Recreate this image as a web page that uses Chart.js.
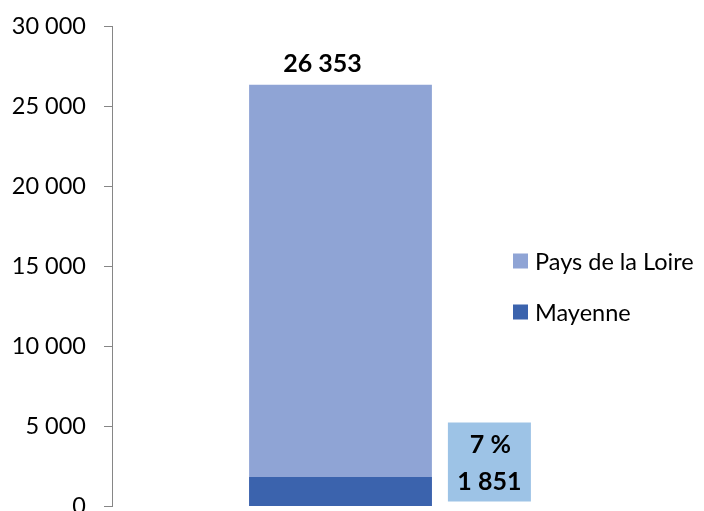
<!DOCTYPE html>
<html>
<head>
<meta charset="utf-8">
<script src="https://cdn.jsdelivr.net/npm/chart.js@4/dist/chart.umd.min.js"></script>
<style>
html,body{margin:0;padding:0;background:#fff;overflow:hidden;}
#wrap{width:704px;height:511px;position:relative;}
</style>
</head>
<body>
<div id="wrap"><canvas id="c" width="704" height="511"></canvas></div>
<script>
const categories = [""];
const seriesNames = ["Pays de la Loire", "Mayenne"];
const paysValues = [26353];
const mayenneValues = [1851];
const yTicks = [0, 5000, 10000, 15000, 20000, 25000, 30000];

const FONT = "Lato, 'Open Sans', sans-serif";
const colPays = "#8FA4D5";
const colMay = "#3B63AD";
const colBox = "#9DC3E6";

function fmt(v){
  return String(Math.round(v)).replace(/\B(?=(\d{3})+(?!\d))/g, " ");
}

const overlayPlugin = {
  id: "overlay",
  afterDraw(chart){
    const ctx = chart.ctx;
    const metaP = chart.getDatasetMeta(0);
    const metaM = chart.getDatasetMeta(1);
    ctx.save();
    // total label above bar
    const barP = metaP.data[0];
    ctx.fillStyle = "#000";
    ctx.font = "bold 25px " + FONT;
    ctx.textAlign = "center";
    ctx.textBaseline = "middle";
    ctx.fillText(fmt(paysValues[0]), barP.x - 18, barP.y - 21);
    // box label for Mayenne
    const barM = metaM.data[0];
    const right = barM.x + barM.width/2;
    const bx = right + 16, bw = 83, bh = 79;
    const by = barM.base - 83.5;
    ctx.fillStyle = colBox;
    ctx.fillRect(bx, by, bw, bh);
    ctx.fillStyle = "#000";
    const pct = Math.round(mayenneValues[0] / paysValues[0] * 100);
    ctx.fillText(pct + " %", bx + bw/2 + 1, by + 22);
    ctx.fillText(fmt(mayenneValues[0]), bx + bw/2, by + 59);
    // legend
    ctx.font = "23.5px " + FONT;
    ctx.textAlign = "left";
    const items = [{name: seriesNames[0], c: colPays, y: 261}, {name: seriesNames[1], c: colMay, y: 312}];
    items.forEach(it => {
      ctx.fillStyle = it.c;
      ctx.fillRect(513, it.y - 7.5, 15, 15);
      ctx.fillStyle = "#000";
      ctx.fillText(it.name, 535, it.y + 1);
    });
    ctx.restore();
  }
};

new Chart(document.getElementById("c"), {
  type: "bar",
  data: {
    labels: categories,
    datasets: [
      {label: seriesNames[0], data: paysValues, backgroundColor: colPays, order: 1, barPercentage: 0.4, categoryPercentage: 1},
      {label: seriesNames[1], data: mayenneValues, backgroundColor: colMay, order: 0, barPercentage: 0.4, categoryPercentage: 1}
    ]
  },
  options: {
    responsive: false,
    animation: false,
    events: [],
    layout: {padding: {top: 26.5, bottom: 4.5, right: 135, left: 0}},
    plugins: {legend: {display: false}, tooltip: {enabled: false}},
    scales: {
      x: {stacked: true, display: false},
      y: {
        stacked: false,
        min: 0, max: 30000,
        afterBuildTicks: (s) => { s.ticks = yTicks.map(v => ({value: v})); },
        afterFit: (s) => { s.paddingTop = 0; s.paddingBottom = 0; s.width = 112; },
        border: {display: true, color: "#868686", width: 1},
        grid: {display: true, drawOnChartArea: false, drawTicks: true, tickLength: 8, color: "#868686"},
        ticks: {
          padding: 18,
          color: "#000",
          font: {family: FONT, size: 23.5},
          callback: (v) => fmt(v)
        }
      }
    }
  },
  plugins: [overlayPlugin]
});
</script>
</body>
</html>
